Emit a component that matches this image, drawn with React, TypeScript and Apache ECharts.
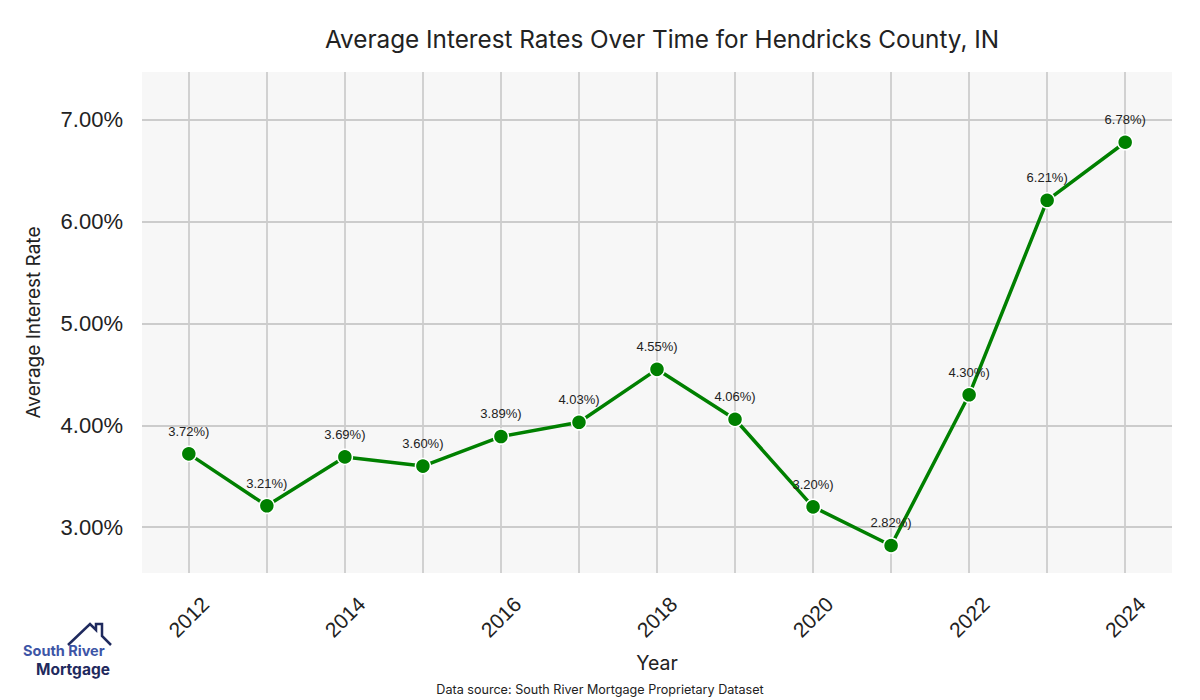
import React, { useEffect, useRef } from "react";
import * as echarts from "echarts";

const years = [2012, 2013, 2014, 2015, 2016, 2017, 2018, 2019, 2020, 2021, 2022, 2023, 2024];
const rates = [3.72, 3.21, 3.69, 3.6, 3.89, 4.03, 4.55, 4.06, 3.2, 2.82, 4.3, 6.21, 6.78];

const titleText = "Average Interest Rates Over Time for Hendricks County, IN";
const xName = "Year";
const yName = "Average Interest Rate";
const sourceText = "Data source: South River Mortgage Proprietary Dataset";

const SANS = "Inter, 'Noto Sans', sans-serif";
const ARIAL = "'Liberation Sans', Arial, sans-serif";

export default function App() {
  const ref = useRef<HTMLDivElement>(null);
  useEffect(() => {
    if (!ref.current) return;
    const chart = echarts.init(ref.current, undefined, { renderer: "svg" });
    const data = years.map((y, i) => [y, rates[i]]);
    chart.setOption({
      animation: false,
      backgroundColor: "#ffffff",
      title: {
        text: titleText,
        left: 657,
        textAlign: "center",
        top: 22,
        textStyle: { fontFamily: SANS, fontSize: 24.3, fontWeight: "normal", color: "#222" },
      },
      grid: {
        left: 142,
        right: 28,
        top: 72,
        bottom: 127,
        show: true,
        backgroundColor: "#f7f7f7",
        borderWidth: 0,
      },
      xAxis: {
        type: "value",
        min: 2011.4,
        max: 2024.6,
        splitNumber: 13,
        name: xName,
        nameLocation: "middle",
        nameGap: 80,
        nameTextStyle: { fontFamily: SANS, fontSize: 19.5, color: "#222" },
        axisLine: { show: false },
        axisTick: { show: false },
        splitLine: { show: true, showMinLine: false, showMaxLine: false, lineStyle: { color: "#cccccc", width: 1.8 } },
        axisLabel: {
          showMinLabel: false,
          showMaxLabel: false,
          rotate: 45,
          align: "center",
          verticalAlign: "middle",
          margin: 44,
          fontFamily: ARIAL,
          fontSize: 21,
          color: "#222",
          formatter: (v: number) => (Math.round(v) % 2 === 0 && Math.abs(v - Math.round(v)) < 1e-6 ? String(Math.round(v)) : ""),
        },
      },
      yAxis: {
        type: "value",
        min: 2.55,
        max: 7.47,
        splitNumber: 5,
        name: yName,
        nameLocation: "middle",
        nameGap: 99,
        nameTextStyle: { fontFamily: SANS, fontSize: 19, color: "#222" },
        axisLine: { show: false },
        axisTick: { show: false },
        splitLine: { show: true, showMinLine: false, showMaxLine: false, lineStyle: { color: "#cccccc", width: 1.8 } },
        axisLabel: {
          showMinLabel: false,
          showMaxLabel: false,
          margin: 19,
          fontFamily: ARIAL,
          fontSize: 22,
          color: "#222",
          formatter: (v: number) => v.toFixed(2) + "%",
        },
      },
      series: [
        {
          type: "line",
          data,
          symbol: "circle",
          symbolSize: 15,
          lineStyle: { color: "#008000", width: 3.5 },
          itemStyle: { color: "#008000", borderColor: "#ffffff", borderWidth: 1.5 },
          label: {
            show: true,
            position: "top",
            distance: 8,
            fontFamily: ARIAL,
            fontSize: 13,
            color: "#222",
            formatter: (p: any) => p.value[1].toFixed(2) + "%)",
          },
          z: 3,
        },
      ],
      graphic: [
        {
          type: "polyline",
          shape: {
            points: [
              [68, 645],
              [90, 624],
              [96, 630],
              [96, 624],
              [102, 624],
              [102, 636],
              [111, 645],
            ],
          },
          style: { stroke: "#1f2a5e", lineWidth: 2.5, fill: null },
        },
        {
          type: "text",
          left: 23,
          top: 643,
          style: { text: "South River", font: "bold 14.5px " + SANS, lineHeight: 15, fill: "#3d55a6" },
        },
        {
          type: "text",
          left: 36,
          top: 661,
          style: { text: "Mortgage", font: "bold 15.5px " + SANS, lineHeight: 16, fill: "#1f2a5e" },
        },
        {
          type: "text",
          x: 600,
          y: 689,
          style: {
            text: sourceText,
            font: "12.6px " + SANS,
            fill: "#222",
            textAlign: "center",
            textVerticalAlign: "middle",
          },
        },
      ],
    });
    return () => chart.dispose();
  }, []);
  return (
    <div
      ref={ref}
      style={{ position: "fixed", left: 0, top: 0, width: 1200, height: 700 }}
    />
  );
}
